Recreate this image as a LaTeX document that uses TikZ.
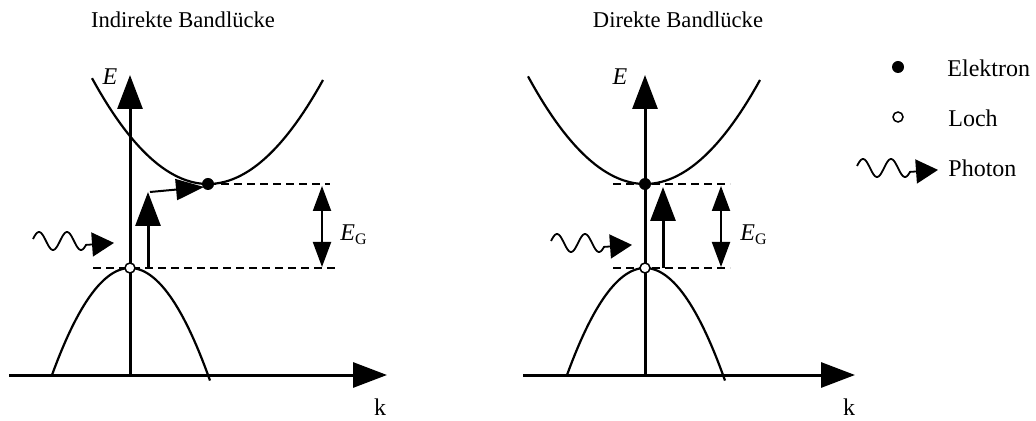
\documentclass[tikz,border=0pt]{standalone}
\usepackage{fontspec}
\setmainfont{Liberation Serif}
\usetikzlibrary{arrows.meta}

\begin{document}
\begin{tikzpicture}[
  x=0.5pt, y=-0.5pt,
  axis/.style={line width=1.5pt, -{Triangle[length=17pt, width=12.5pt]}},
  band/.style={line width=1.1pt},
  level/.style={line width=1pt, dash pattern=on 4pt off 2.5pt},
  jump/.style={line width=1.5pt, -{Triangle[length=17pt, width=12.5pt]}},
  kick/.style={line width=1pt, -{Triangle[length=14pt, width=10.5pt]}},
  gap/.style={line width=1pt, {Triangle[length=12.5pt, width=9pt]}-{Triangle[length=12.5pt, width=9pt]}},
  wave/.style={line width=0.9pt, -{Triangle[length=11pt, width=12pt]}},
  electron/.style={circle, fill=black, inner sep=0pt, minimum size=6pt},
  hole/.style={circle, draw=black, fill=white, line width=0.75pt, inner sep=0pt, minimum size=5pt},
  title/.style={font=\fontsize{11.3}{13}\selectfont, inner sep=0pt},
  lbl/.style={font=\fontsize{12}{14}\selectfont, inner sep=0pt},
]
\useasboundingbox (0,0) rectangle (1036,421);

% Left panel -- indirect gap
\node[title, anchor=base] (tL) at (183,28) {Indirekte Bandlücke};
\coordinate (vL) at (130,268); % valence maximum
\coordinate (cL) at (208,184); % conduction minimum
\draw[axis] (9,375) -- (387,375);
\draw[axis] (130,375) -- (130,75);
\node[lbl, anchor=base] (kL) at (380,415) {k};
\node[lbl] (EL) at (110,77) {\textit{E}};
\draw[band] plot[domain=-78:80, samples=60] ({130+\x},{268+107*(\x/78)*(\x/78)});
\draw[band] plot[domain=-116:115, samples=60] ({208+\x},{184-104*(\x/115)*(\x/115)});
\draw[level] (cL) -- (330,184);
\draw[level] (93,268) -- (335,268);
\coordinate (jL0) at (148,268); \coordinate (jL1) at (148,192);
\draw[jump] (jL0) -- (jL1);
\coordinate (kL0) at (150,192); \coordinate (kL1) at (204,187);
\draw[kick] (kL0) -- (kL1);
\coordinate (gL0) at (322,186); \coordinate (gL1) at (322,267);
\draw[gap] (gL0) -- (gL1);
\node[lbl, anchor=base west] (gapL) at (340,241) {\textit{E}\textsubscript{G}};
\node[hole] (hL) at (vL) {};
\node[electron] (eL) at (cL) {};

% Right panel -- direct gap
\node[title, anchor=base] (tR) at (678,28) {Direkte Bandlücke};
\coordinate (vR) at (645,268);
\coordinate (cR) at (645,184);
\draw[axis] (523,375) -- (855,375);
\draw[axis] (645,375) -- (645,75);
\node[lbl, anchor=base] (kR) at (849,415) {k};
\node[lbl] (ER) at (620,77) {\textit{E}};
\draw[band] plot[domain=-78:80, samples=60] ({645+\x},{268+107*(\x/78)*(\x/78)});
\draw[band] plot[domain=-117:115, samples=60] ({645+\x},{184-104*(\x/115)*(\x/115)});
\draw[level] (613,184) -- (730,184);
\draw[level] (613,268) -- (730,268);
\coordinate (jR0) at (663,268); \coordinate (jR1) at (663,187);
\draw[jump] (jR0) -- (jR1);
\coordinate (gR0) at (721,186); \coordinate (gR1) at (721,267);
\draw[gap] (gR0) -- (gR1);
\node[lbl, anchor=base west] (gapR) at (740,241) {\textit{E}\textsubscript{G}};
\node[hole] (hR) at (vR) {};
\node[electron] (eR) at (cR) {};

% Photons (two panels and legend)
\foreach \px/\py in {33/241, 551/243, 857/168}
  {\draw[wave] plot[domain=0:53, samples=50, smooth] ({\px+\x},{\py+9*sin((\x-13)/28*360)}) -- ++(28,-2);}

% Legend
\node[electron] (dotE) at (898,67) {};
\node[lbl, anchor=base west] (txtE) at (947,77) {Elektron};
\node[hole] (dotL) at (898,117) {};
\node[lbl, anchor=base west] (txtL) at (948,127) {Loch};
\node[lbl, anchor=base west] (txtP) at (948,177) {Photon};
\end{tikzpicture}
\end{document}
